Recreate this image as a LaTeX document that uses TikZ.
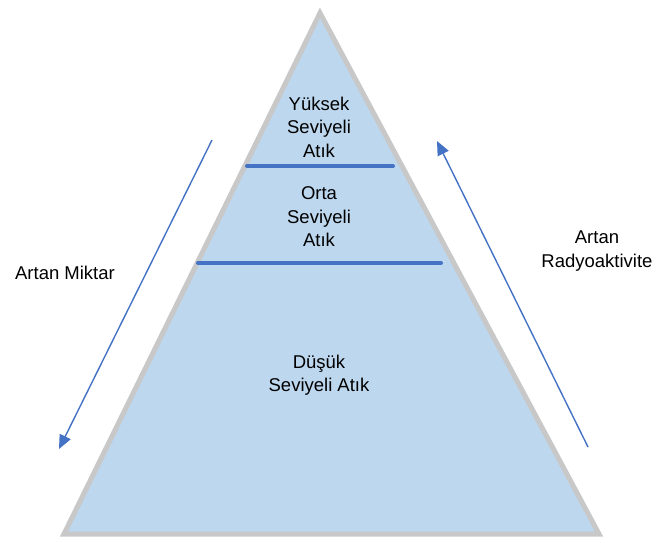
\documentclass[tikz,border=0pt]{standalone}
\usepackage{fontspec}
\setmainfont{Liberation Sans}
\usetikzlibrary{arrows.meta}
\definecolor{pyrfill}{HTML}{BDD7EE}
\definecolor{pyredge}{HTML}{C8C8C8}
\definecolor{bandblue}{HTML}{4472C4}

\begin{document}
\begin{tikzpicture}[x=1pt,y=-1pt]
\tikzset{label/.style={inner sep=0pt,align=center,font=\fontsize{18.5}{23.5}\selectfont},
  band/.style={bandblue,line width=4pt,line cap=round},
  trend/.style={bandblue,line width=1.4pt,-{Triangle[length=14pt,width=12pt]}}}
\useasboundingbox (0,0) rectangle (656,542);
% pyramid
\coordinate (top) at (320,13);
\coordinate (bl) at (64,534);
\coordinate (br) at (599,534);
\draw [pyredge,fill=pyrfill,line width=5pt] (top) -- (bl) -- (br) -- cycle;
% bands
\coordinate (h1l) at (247,166);
\coordinate (h1r) at (393,166);
\coordinate (h2l) at (198,263);
\coordinate (h2r) at (441,263);
\draw [band] (h1l) -- (h1r);
\draw [band] (h2l) -- (h2r);
% texts
\node [label] (high) at (319,127) {Yüksek\\Seviyeli\\Atık};
\node [label] (mid) at (319,217) {Orta\\Seviyeli\\Atık};
\node [label] (low) at (319,375) {Düşük\\Seviyeli Atık};
\node [label] (amount) at (65,273) {Artan Miktar};
\node [label] (activity) at (597,251) {Artan\\Radyoaktivite};
% arrows
\coordinate (a1) at (212,140);
\coordinate (a2) at (59,449);
\coordinate (b1) at (588,447);
\coordinate (b2) at (437,141);
\draw [trend] (a1) -- (a2);
\draw [trend] (b1) -- (b2);
\end{tikzpicture}
\end{document}
